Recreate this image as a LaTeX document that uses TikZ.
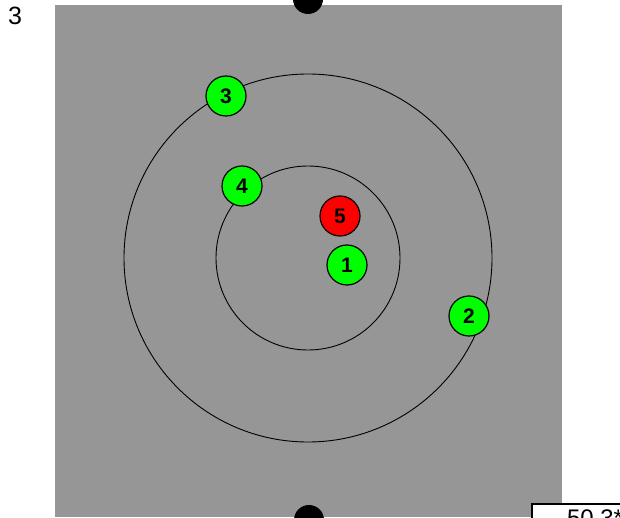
\documentclass[tikz,border=0pt]{standalone}
\usepackage{fontspec}
\setmainfont{Liberation Sans}
\usepackage{xcolor}
\definecolor{field}{RGB}{150,150,150}

\begin{document}
\begin{tikzpicture}[
  x=1pt, y=1pt,
  shot/.style={circle, draw=black, line width=1.2pt, fill=green, inner sep=0pt,
               minimum size=40pt, font=\fontsize{21}{21}\selectfont\bfseries},
  miss/.style={shot, fill=red},
  ring/.style={draw=black, line width=0.9pt},
]
\useasboundingbox (0,0) rectangle (620,517);
\clip (0,0) rectangle (620,517);

%% target area
\fill[field] (55,0) rectangle (562,512);
\coordinate (ctr) at (308,259);
\draw[ring] (ctr) circle[radius=184];
\draw[ring] (ctr) circle[radius=92];

%% marks on top and bottom edge
\fill[black] (308,518) circle[radius=15];
\fill[black] (309,-3) circle[radius=15];

%% shots
\node[shot] (s3) at (226,421) {3};
\node[shot] (s4) at (242,331) {4};
\node[miss] (s5) at (340,301) {5};
\node[shot] (s1) at (347,252) {1};
\node[shot] (s2) at (469,201) {2};

%% labels
\node[anchor=north west, inner sep=0pt, font=\fontsize{25}{25}\selectfont] (num) at (8,510) {3};
\node[draw=black, line width=2pt, fill=white, anchor=north west, text width=100pt,
      inner xsep=10pt, inner ysep=6pt, align=left,
      font=\fontsize{24}{24}\selectfont] (score) at (531,14) {\hspace*{25pt}50.3*};
\end{tikzpicture}
\end{document}
